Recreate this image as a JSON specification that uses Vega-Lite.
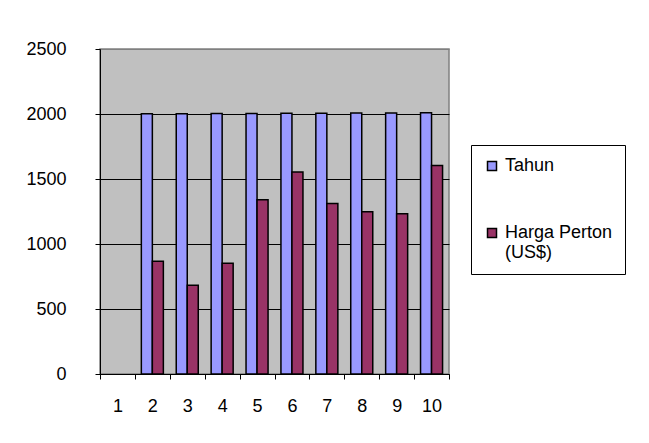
{
  "$schema": "https://vega.github.io/schema/vega-lite/v6.json",
  "width": 349,
  "height": 325,
  "autosize": {"type": "none"},
  "padding": {"left": 100, "top": 49, "right": 200, "bottom": 69},
  "background": "white",
  "config": {
    "font": "Liberation Sans",
    "view": {"fill": "#C0C0C0", "stroke": "#808080", "strokeWidth": 1.5}
  },
  "data": {
    "values": [
      {"Kategori": "2", "Seri": "Tahun", "Nilai": 2001},
      {"Kategori": "3", "Seri": "Tahun", "Nilai": 2002},
      {"Kategori": "4", "Seri": "Tahun", "Nilai": 2003},
      {"Kategori": "5", "Seri": "Tahun", "Nilai": 2004},
      {"Kategori": "6", "Seri": "Tahun", "Nilai": 2005},
      {"Kategori": "7", "Seri": "Tahun", "Nilai": 2006},
      {"Kategori": "8", "Seri": "Tahun", "Nilai": 2007},
      {"Kategori": "9", "Seri": "Tahun", "Nilai": 2008},
      {"Kategori": "10", "Seri": "Tahun", "Nilai": 2009},
      {"Kategori": "2", "Seri": "Harga Perton (US$)", "Nilai": 867},
      {"Kategori": "3", "Seri": "Harga Perton (US$)", "Nilai": 683},
      {"Kategori": "4", "Seri": "Harga Perton (US$)", "Nilai": 852},
      {"Kategori": "5", "Seri": "Harga Perton (US$)", "Nilai": 1340},
      {"Kategori": "6", "Seri": "Harga Perton (US$)", "Nilai": 1554},
      {"Kategori": "7", "Seri": "Harga Perton (US$)", "Nilai": 1312},
      {"Kategori": "8", "Seri": "Harga Perton (US$)", "Nilai": 1248},
      {"Kategori": "9", "Seri": "Harga Perton (US$)", "Nilai": 1233},
      {"Kategori": "10", "Seri": "Harga Perton (US$)", "Nilai": 1603}
    ]
  },
  "mark": {"type": "bar", "stroke": "black", "strokeWidth": 1.5},
  "encoding": {
    "x": {
      "field": "Kategori",
      "type": "ordinal",
      "scale": {"domain": ["1", "2", "3", "4", "5", "6", "7", "8", "9", "10"], "paddingInner": 0, "paddingOuter": 0},
      "axis": {
        "title": null,
        "labelAngle": 0,
        "tickBand": "extent",
        "tickSize": 5,
        "tickColor": "black",
        "domainColor": "black",
        "labelFontSize": 18,
        "labelColor": "black",
        "labelPadding": 18,
        "grid": false
      }
    },
    "xOffset": {
      "field": "Seri",
      "type": "nominal",
      "sort": ["Tahun", "Harga Perton (US$)"],
      "scale": {"paddingInner": 0, "paddingOuter": 0.585}
    },
    "y": {
      "field": "Nilai",
      "type": "quantitative",
      "scale": {"domain": [0, 2500], "nice": false},
      "axis": {
        "title": null,
        "format": "d",
        "values": [0, 500, 1000, 1500, 2000, 2500],
        "grid": true,
        "gridColor": {"condition": {"test": "datum.value == 2500", "value": "#808080"}, "value": "black"},
        "gridOpacity": 1,
        "tickSize": 5,
        "tickColor": "black",
        "domainColor": "black",
        "labelFontSize": 18,
        "labelColor": "black",
        "labelPadding": 29
      }
    },
    "color": {
      "field": "Seri",
      "type": "nominal",
      "sort": ["Tahun", "Harga Perton (US$)"],
      "scale": {"domain": ["Tahun", "Harga Perton (US$)"], "range": ["#9999FF", "#993366"]},
      "legend": {
        "title": null,
        "orient": "none",
        "legendX": 371,
        "legendY": 96,
        "padding": 12,
        "strokeColor": "black",
        "fillColor": "white",
        "labelFontSize": 18,
        "labelColor": "black",
        "labelLimit": 400,
        "symbolType": "square",
        "symbolSize": 81,
        "symbolStrokeColor": "black",
        "symbolStrokeWidth": 1.5,
        "symbolOpacity": 1,
        "rowPadding": 49,
        "labelExpr": "datum.label == 'Harga Perton (US$)' ? ['Harga Perton', '(US$)\u2003\u2003\u2003\u2003\u2003\u2003\u2003\u2003'] : datum.label"
      }
    }
  }
}
